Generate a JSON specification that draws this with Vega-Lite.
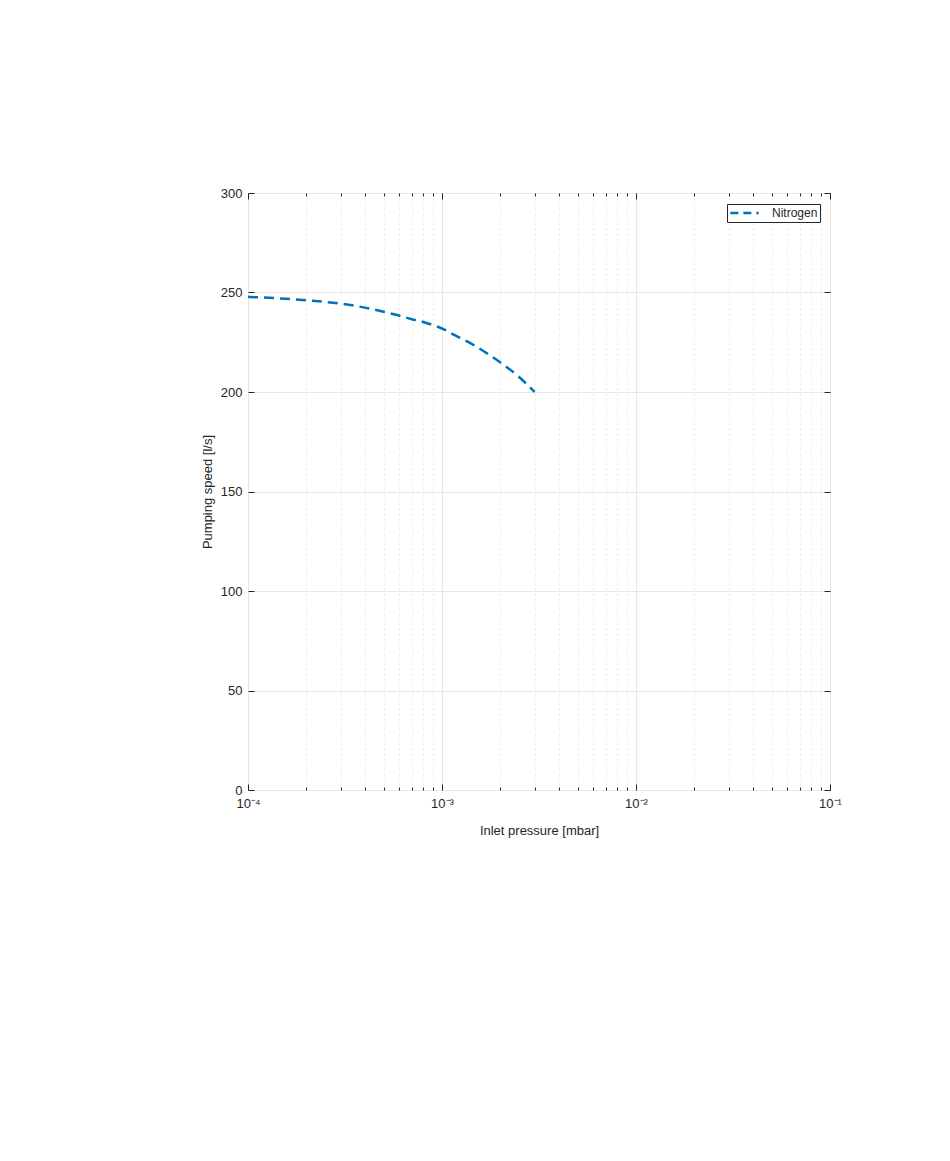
{
  "$schema": "https://vega.github.io/schema/vega-lite/v6.json",
  "autosize": {"type": "none"},
  "padding": {"left": 248, "top": 193, "right": 120, "bottom": 371},
  "width": 582,
  "height": 597,
  "background": "white",
  "config": {
    "font": "Liberation Sans",
    "view": {"stroke": "#262626", "strokeWidth": 1},
    "axis": {"domain": false, "labelColor": "#262626", "titleColor": "#262626", "tickColor": "#262626", "labelFont": "Liberation Sans", "titleFont": "Liberation Sans", "titleFontWeight": "normal"}
  },
  "data": {"values": [
    {"p": 0.0001, "s": 247.8, "gas": "Nitrogen"},
    {"p": 0.0002, "s": 246.1, "gas": "Nitrogen"},
    {"p": 0.0003, "s": 244.4, "gas": "Nitrogen"},
    {"p": 0.0004, "s": 242.4, "gas": "Nitrogen"},
    {"p": 0.0005, "s": 240.3, "gas": "Nitrogen"},
    {"p": 0.0006, "s": 238.4, "gas": "Nitrogen"},
    {"p": 0.0007, "s": 236.6, "gas": "Nitrogen"},
    {"p": 0.0008, "s": 235.2, "gas": "Nitrogen"},
    {"p": 0.0009, "s": 233.6, "gas": "Nitrogen"},
    {"p": 0.001, "s": 231.9, "gas": "Nitrogen"},
    {"p": 0.00117, "s": 228.4, "gas": "Nitrogen"},
    {"p": 0.00143, "s": 224.1, "gas": "Nitrogen"},
    {"p": 0.00173, "s": 219.0, "gas": "Nitrogen"},
    {"p": 0.00207, "s": 213.8, "gas": "Nitrogen"},
    {"p": 0.00248, "s": 207.8, "gas": "Nitrogen"},
    {"p": 0.003, "s": 200.0, "gas": "Nitrogen"}
  ]},
  "layer": [
    {
      "mark": {"type": "line", "strokeWidth": 2.5, "strokeDash": [10, 6], "interpolate": "monotone", "clip": true},
      "encoding": {
        "x": {"field": "p", "type": "quantitative",
          "scale": {"type": "log", "domain": [0.0001, 0.1], "nice": false},
          "axis": {
            "orient": "bottom",
            "title": "Inlet pressure [mbar]",
            "titleFontSize": 13,
            "titlePadding": 11,
            "labelFontSize": 13,
            "labelPadding": 13,
            "values": [0.0001,0.0002,0.0003,0.0004,0.0005,0.0006,0.0007,0.0008,0.0009,0.001,0.002,0.003,0.004,0.005,0.006,0.007,0.008,0.009,0.01,0.02,0.03,0.04,0.05,0.06,0.07,0.08,0.09,0.1],
            "labelExpr": "abs(datum.value-0.0001)<1e-9 ? '10⁻⁴' : abs(datum.value-0.001)<1e-8 ? '10⁻³' : abs(datum.value-0.01)<1e-7 ? '10⁻²' : abs(datum.value-0.1)<1e-6 ? '10⁻¹' : ''",
            "labelOverlap": false,
            "labelFlush": false,
            "tickSize": {"condition": {"test": "abs(log(datum.value)/LN10 - round(log(datum.value)/LN10)) < 0.001", "value": -6}, "value": -3},
            "grid": true,
            "gridColor": "#e6e6e6",
            "gridDash": {"condition": {"test": "abs(log(datum.value)/LN10 - round(log(datum.value)/LN10)) < 0.001", "value": []}, "value": [2, 3]}
          }
        },
        "y": {"field": "s", "type": "quantitative",
          "scale": {"domain": [0, 300], "nice": false},
          "axis": {
            "orient": "left",
            "title": "Pumping speed [l/s]",
            "titleFontSize": 13,
            "titlePadding": 6,
            "labelFontSize": 13,
            "labelPadding": 12,
            "values": [0, 50, 100, 150, 200, 250, 300],
            "tickSize": -6,
            "grid": true,
            "gridColor": "#e6e6e6"
          }
        },
        "color": {"field": "gas", "type": "nominal",
          "scale": {"range": ["#0072BD"]},
          "legend": {
            "title": null,
            "orient": "none",
            "legendX": 479,
            "legendY": 11,
            "symbolType": "stroke",
            "symbolStrokeWidth": 2.5,
            "symbolDash": [8, 5],
            "symbolSize": 800,
            "clipHeight": 14,
            "labelOffset": 12,
            "labelFontSize": 12,
            "labelColor": "#262626",
            "strokeColor": "#262626",
            "fillColor": "white",
            "padding": 2
          }
        }
      }
    },
    {
      "mark": {"type": "line", "opacity": 0},
      "encoding": {
        "x": {"field": "p", "type": "quantitative",
          "axis": {
            "orient": "top", "title": null, "labels": false, "grid": false,
            "values": [0.0001,0.0002,0.0003,0.0004,0.0005,0.0006,0.0007,0.0008,0.0009,0.001,0.002,0.003,0.004,0.005,0.006,0.007,0.008,0.009,0.01,0.02,0.03,0.04,0.05,0.06,0.07,0.08,0.09,0.1],
            "tickSize": {"condition": {"test": "abs(log(datum.value)/LN10 - round(log(datum.value)/LN10)) < 0.001", "value": -6}, "value": -3}
          }
        },
        "y": {"field": "s", "type": "quantitative",
          "axis": {"orient": "right", "title": null, "labels": false, "grid": false, "values": [0, 50, 100, 150, 200, 250, 300], "tickSize": -6}
        }
      }
    }
  ],
  "resolve": {"axis": {"x": "independent", "y": "independent"}}
}
